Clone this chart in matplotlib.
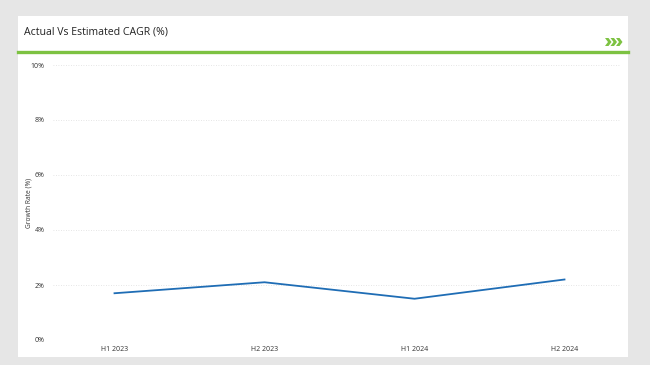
import matplotlib.pyplot as plt
from matplotlib.patches import Rectangle, Polygon
from matplotlib.lines import Line2D

periods = ['H1 2023', 'H2 2023', 'H1 2024', 'H2 2024']
growth = [1.7, 2.1, 1.5, 2.2]
y_ticks = [0, 2, 4, 6, 8, 10]

plt.rcParams['font.family'] = ['Open Sans', 'DejaVu Sans']

W, H = 650, 365


def px(x, y):
    # pixel coords (top-left origin) -> figure fraction
    return x / W, 1 - y / H


fig = plt.figure(figsize=(6.5, 3.65), dpi=100)
fig.patch.set_facecolor('#e6e6e6')

# white card behind everything
fig.add_artist(Rectangle(px(18, 357), 610 / W, 341 / H,
                         transform=fig.transFigure, facecolor='white',
                         edgecolor='none', zorder=0))
# green rule under the title
fig.add_artist(Line2D([18 / W, 628 / W], [1 - 52 / H, 1 - 52 / H],
                      transform=fig.transFigure, color='#7dc242', lw=2.4))
fig.text(24 / W, 1 - 32 / H, 'Actual Vs Estimated CAGR (%)', fontsize=7.6,
         color='#222222', va='center', ha='left')

# three small green chevrons at the right end of the title bar
for i in range(3):
    x0 = 605 + i * 5.5
    shape = [(0, -4), (3.5, -4), (6.5, 0), (3.5, 4), (0, 4), (3, 0)]
    pts = [px(x0 + dx, 42 + dy) for dx, dy in shape]
    fig.add_artist(Polygon(pts, closed=True, transform=fig.transFigure,
                           facecolor='#7dc242', edgecolor='none'))

ax = fig.add_axes([53 / W, 1 - 340 / H, 567 / W, 275 / H])
ax.set_facecolor('none')
x = list(range(len(periods)))
ax.plot(x, growth, color='#1f6db5', lw=1.3)

ax.set_xlim(-0.41, 3.37)
ax.set_ylim(0, 10)
ax.set_xticks(x)
ax.set_xticklabels(periods)
ax.set_yticks(y_ticks)
ax.set_yticklabels([f'{v}%' for v in y_ticks])
ax.tick_params(axis='both', length=0, labelsize=5, colors='#333333')
ax.tick_params(axis='y', pad=6)
ax.tick_params(axis='x', pad=4)
ax.grid(axis='y', color='#dddddd', lw=0.6, ls=(0, (1, 2)))
for s in ax.spines.values():
    s.set_visible(False)
ax.set_ylabel('Growth Rate (%)', fontsize=4.8, color='#333333', labelpad=-1)

plt.savefig('out.png', dpi=100, facecolor=fig.get_facecolor())
